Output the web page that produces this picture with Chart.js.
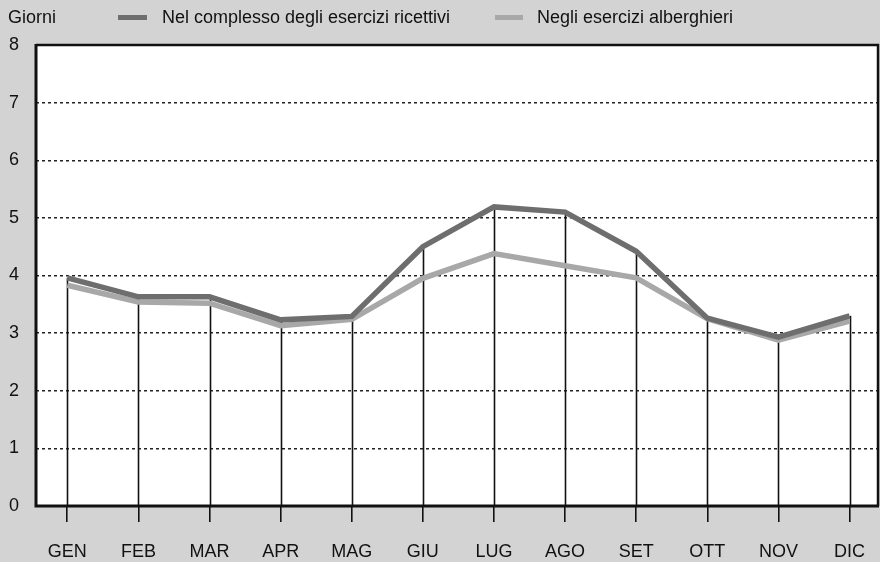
<!DOCTYPE html>
<html>
<head>
<meta charset="utf-8">
<script src="https://cdn.jsdelivr.net/npm/chart.js@4"></script>
<style>
  html, body { margin: 0; padding: 0; background: #d3d3d3; }
  #wrap { position: relative; width: 880px; height: 562px; font-family: "Liberation Sans", Arial, sans-serif; color: #111; }
  canvas { position: absolute; left: 0; top: 0; }
  .lbl { position: absolute; font-size: 18px; line-height: 20px; white-space: nowrap; }
  .sw { position: absolute; height: 5px; }
</style>
</head>
<body>
<div id="wrap">
  <canvas id="chart" width="880" height="562"></canvas>
  <div class="lbl" style="left:8px;top:7px">Giorni</div>
  <div class="sw" style="left:118px;top:15px;width:29px;background:#6e6e6e"></div>
  <div class="lbl" style="left:162px;top:7px">Nel complesso degli esercizi ricettivi</div>
  <div class="sw" style="left:495px;top:15px;width:28px;background:#a8a8a8"></div>
  <div class="lbl" style="left:537px;top:7px">Negli esercizi alberghieri</div>
</div>
<script>
// dati
const months = ["GEN", "FEB", "MAR", "APR", "MAG", "GIU", "LUG", "AGO", "SET", "OTT", "NOV", "DIC"];
const complesso = [3.96, 3.63, 3.63, 3.23, 3.29, 4.5, 5.19, 5.1, 4.42, 3.26, 2.93, 3.3];
const alberghieri = [3.83, 3.54, 3.52, 3.13, 3.24, 3.95, 4.38, 4.17, 3.96, 3.25, 2.88, 3.21];
const yTicks = [0, 1, 2, 3, 4, 5, 6, 7, 8];

const frame = {
  id: "frame",
  beforeDraw(chart) {
    const { ctx, chartArea: a } = chart;
    ctx.save();
    ctx.fillStyle = "#ffffff";
    ctx.fillRect(a.left, a.top, a.right - a.left, a.bottom - a.top);
    ctx.restore();
  },
  beforeDatasetsDraw(chart) {
    // linee verticali dal valore all'asse
    const { ctx, scales: { x, y } } = chart;
    ctx.save();
    ctx.strokeStyle = "#111";
    ctx.lineWidth = 1.6;
    months.forEach((m, i) => {
      const px = Math.round(x.getPixelForValue(i)) + 0.5;
      const top = y.getPixelForValue(Math.max(complesso[i], alberghieri[i]));
      ctx.beginPath();
      ctx.moveTo(px, top);
      ctx.lineTo(px, y.getPixelForValue(0));
      ctx.stroke();
    });
    ctx.restore();
  },
  afterDraw(chart) {
    const { ctx, chartArea: a } = chart;
    ctx.save();
    ctx.strokeStyle = "#111";
    ctx.lineWidth = 2.5;
    ctx.beginPath();
    ctx.moveTo(a.left, a.top);
    ctx.lineTo(a.right, a.top);
    ctx.lineTo(a.right, a.bottom);
    ctx.stroke();
    ctx.lineWidth = 3;
    ctx.beginPath();
    ctx.moveTo(a.left, a.top - 1);
    ctx.lineTo(a.left, a.bottom);
    ctx.lineTo(a.right + 1, a.bottom);
    ctx.stroke();
    ctx.restore();
  }
};

new Chart(document.getElementById("chart").getContext("2d"), {
  type: "line",
  data: {
    datasets: [
      {
        label: "Nel complesso degli esercizi ricettivi",
        data: complesso.map((v, i) => ({ x: i, y: v })),
        borderColor: "#6e6e6e",
        borderWidth: 5.5,
        pointRadius: 0,
        tension: 0
      },
      {
        label: "Negli esercizi alberghieri",
        data: alberghieri.map((v, i) => ({ x: i, y: v })),
        borderColor: "#a8a8a8",
        borderWidth: 5.5,
        pointRadius: 0,
        tension: 0
      }
    ]
  },
  options: {
    responsive: false,
    animation: false,
    layout: { padding: { top: 45, right: 2, left: 0, bottom: 0 } },
    plugins: { legend: { display: false }, tooltip: { enabled: false } },
    scales: {
      x: {
        type: "linear",
        min: -0.44,
        max: 11.4,
        afterBuildTicks: (s) => { s.ticks = months.map((m, i) => ({ value: i })); },
        afterFit: (s) => { s.height = 56; s.paddingLeft = 0; s.paddingRight = 0; },
        ticks: {
          callback: (v) => months[v],
          color: "#111",
          font: { family: "Liberation Sans", size: 18 },
          padding: 19,
          maxRotation: 0,
          autoSkip: false
        },
        grid: { drawOnChartArea: false, drawTicks: true, tickLength: 16, color: "#111", lineWidth: 1.6 },
        border: { display: false }
      },
      y: {
        min: 0,
        max: 8,
        afterBuildTicks: (s) => { s.ticks = yTicks.map((v) => ({ value: v })); },
        afterFit: (s) => { s.width = 36; },
        ticks: {
          color: "#111",
          font: { family: "Liberation Sans", size: 18 },
          padding: 17
        },
        grid: {
          drawTicks: false,
          color: (c) => (c.tick && c.tick.value > 0 && c.tick.value < 8 ? "#222" : "rgba(0,0,0,0)"),
          lineWidth: 1.5
        },
        border: { display: false, dash: [3, 3] }
      }
    }
  },
  plugins: [frame]
});
</script>
</body>
</html>
